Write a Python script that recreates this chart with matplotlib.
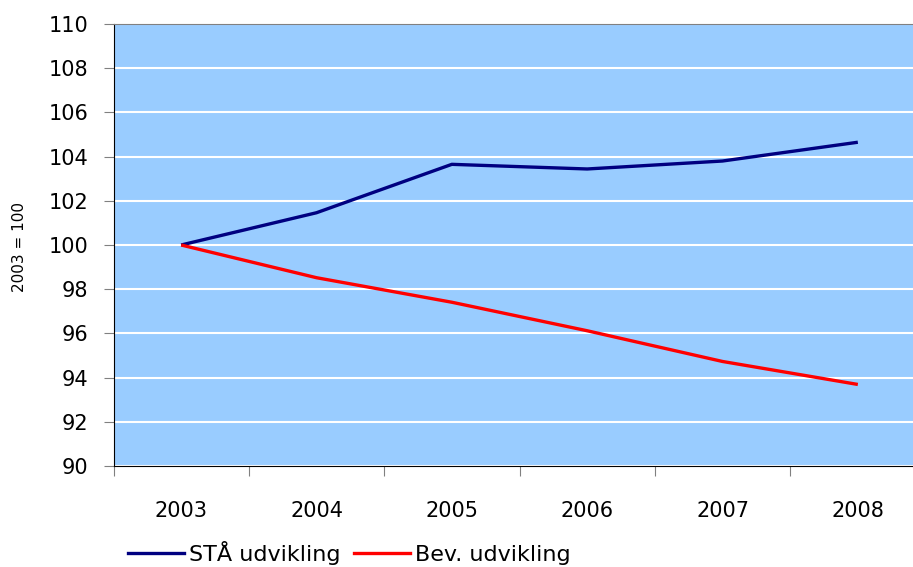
import numpy as np
import matplotlib.pyplot as plt
from matplotlib.lines import Line2D

years = ["2003", "2004", "2005", "2006", "2007", "2008"]
sta_values = [100.0, 101.46, 103.65, 103.44, 103.8, 104.65]
bev_values = [100.0, 98.52, 97.41, 96.12, 94.73, 93.69]
y_ticks = list(range(90, 111, 2))

plt.rcParams['font.family'] = ['DejaVu Sans']

fig = plt.figure(figsize=(9.13, 5.67), dpi=100)
# plot area runs a little past the right edge of the picture
ax = fig.add_axes([113.5 / 913, 1 - 466 / 567, 812 / 913, 442 / 567])
ax.set_facecolor('#99CCFF')

x = np.arange(len(years))
ax.plot(x, sta_values, color='#000080', lw=2.4, solid_capstyle='butt', zorder=3)
ax.plot(x, bev_values, color='#FF0000', lw=2.4, solid_capstyle='butt', zorder=3)

ax.set_xlim(-0.5, len(years) - 0.5)
ax.set_ylim(90, 110)
ax.set_yticks(y_ticks)
ax.set_yticklabels([str(v) for v in y_ticks], fontsize=15)
ax.yaxis.grid(True, color='white', lw=1.5)
ax.set_axisbelow(True)

# category boundaries get ticks, labels sit at the centres
ax.set_xticks(np.arange(-0.5, len(years), 1.0))
ax.set_xticklabels([])
ax.set_xticks(x, minor=True)
ax.set_xticklabels(years, minor=True, fontsize=15)
ax.tick_params(axis='x', which='major', length=7, color='#808080', direction='out')
ax.tick_params(axis='x', which='minor', length=0, pad=25)
ax.tick_params(axis='y', length=7, color='#808080', direction='out', pad=11)

ax.spines['right'].set_visible(False)
ax.spines['top'].set_color('#808080')
ax.spines['left'].set_color('black')
ax.spines['bottom'].set_color('black')

fig.text(20 / 913, 1 - 247 / 567, '2003 = 100', rotation=90, fontsize=11,
         ha='center', va='center')

handles = [Line2D([], [], color='#000080', lw=2.4),
           Line2D([], [], color='#FF0000', lw=2.4)]
fig.legend(handles, ['STÅ udvikling', 'Bev. udvikling'], loc='center left',
           bbox_to_anchor=(128 / 913, 1 - 553 / 567), ncol=2, frameon=False,
           fontsize=16, handlelength=2.5, handletextpad=0.25, columnspacing=0.6,
           borderpad=0, borderaxespad=0)

fig.savefig('out.png', dpi=100)
